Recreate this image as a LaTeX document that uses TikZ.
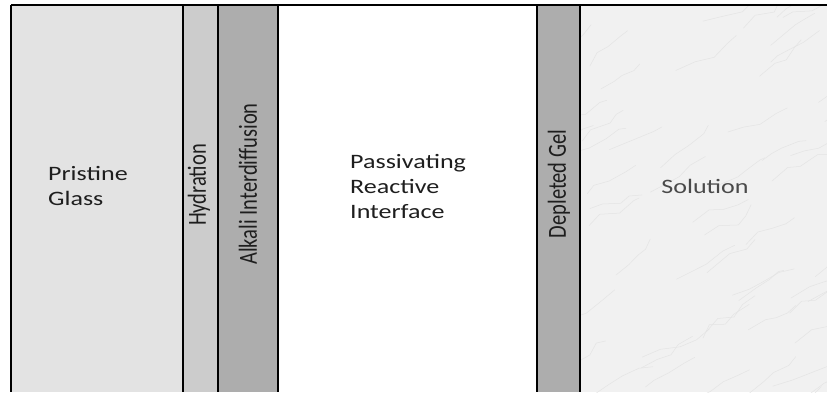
\documentclass[tikz,border=0pt]{standalone}
\usepackage{fontspec}
\setmainfont{Carlito}
\usepackage{graphicx}
\definecolor{pristine}{HTML}{E3E3E3}
\definecolor{hydr}{HTML}{CCCCCC}
\definecolor{gel}{HTML}{ADADAD}
\definecolor{soln}{HTML}{F1F1F1}
\definecolor{marble}{HTML}{E4E4E4}
\definecolor{ink}{HTML}{1E1E1E}
\definecolor{inksol}{HTML}{4A4A4A}
\newcommand{\hs}[1]{\scalebox{1.27}[1]{#1}}
\newcommand{\vs}[1]{\scalebox{1}[1.27]{#1}}
\tikzset{
  lbl/.style={inner sep=0pt, text=ink, font=\fontsize{20.5bp}{25bp}\selectfont},
  border/.style={line width=2bp, draw=black},
}
\begin{document}
\begin{tikzpicture}[x=1bp,y=-1bp]
\useasboundingbox (0,0) rectangle (827,392);
\fill[white] (0,0) rectangle (827,392);
% layers
\fill[pristine] (11,5) rectangle (183,392);
\fill[hydr] (183,5) rectangle (218,392);
\fill[gel] (218,5) rectangle (278,392);
\fill[white] (278,5) rectangle (537,392);
\fill[gel] (537,5) rectangle (580,392);
\fill[soln] (580,5) rectangle (827,392);
% marble texture
\begin{scope}
\clip (580,5) rectangle (827,392);
\pgfmathsetseed{17}
\foreach \i in {1,...,70}{
  \pgfmathsetmacro\xa{540+rnd*300}
  \pgfmathsetmacro\ya{rnd*440}
  \draw[marble, line width=0.5bp, line cap=round, line join=round]
    (\xa,\ya) -- ++(6+rnd*14,-4-rnd*10) -- ++(8+rnd*12,-rnd*10)
    -- ++(6+rnd*12,-4-rnd*10) -- ++(4+rnd*12,-rnd*12);
}
\end{scope}
% borders
\draw[line width=1.6bp] (11,5) -- (827,5);
\foreach \x in {11,183,218,278,537,580}{
  \draw[border] (\x,5) -- (\x,392);
}
% labels
\node[lbl, anchor=base west, align=left] (pristine) at (48,205) {\hs{Pristine}\\\hs{Glass}};
\node[lbl, rotate=90] (hydration) at (199,185) {\vs{Hydration}};
\node[lbl, rotate=90] (alkali) at (248,184) {\vs{Alkali Interdiffusion}};
\node[lbl, anchor=base west, align=left] (passivating) at (350,218) {\hs{Passivating}\\\hs{Reactive}\\\hs{Interface}};
\node[lbl, rotate=90] (depleted) at (559,184) {\vs{Depleted Gel}};
\node[lbl, text=inksol, anchor=base] (solution) at (705,193) {\hs{Solution}};
\end{tikzpicture}
\end{document}
